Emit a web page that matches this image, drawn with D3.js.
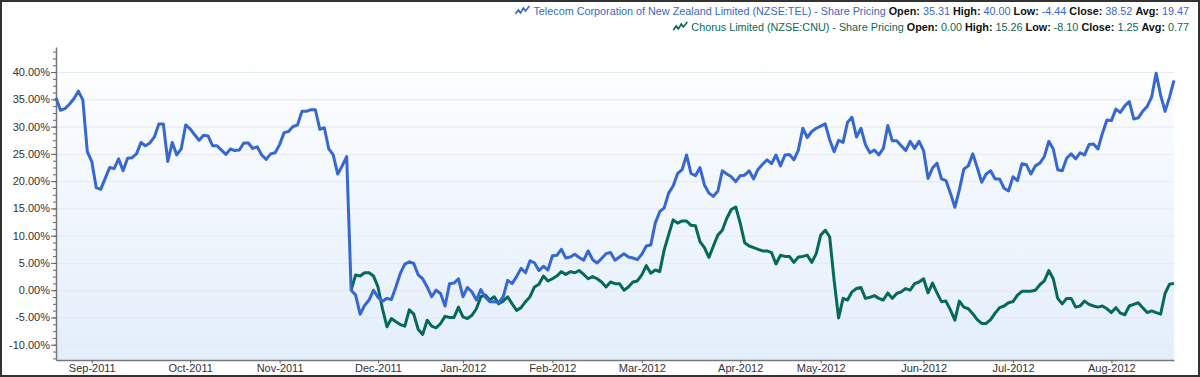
<html>

<head>
    <meta charset="utf-8">
    <script src="https://d3js.org/d3.v7.min.js"></script>
    <style>
        body {
            margin: 0;
            background: #fff;
        }

        text {
            font-family: "Liberation Sans", Arial, sans-serif;
        }

        .gridlines line {
            stroke: #e7e9ec;
        }

        .gridlines .domain {
            display: none;
        }
    </style>
</head>

<body>
    <svg height="377" width="1200" id="shareSvg"></svg>
    <script>
        // trading-day index of the first day of each month (day 0 = 22 Aug 2011)
        const monthLabels = ["Sep-2011", "Oct-2011", "Nov-2011", "Dec-2011", "Jan-2012", "Feb-2012",
            "Mar-2012", "Apr-2012", "May-2012", "Jun-2012", "Jul-2012", "Aug-2012"];
        const monthDays = [8, 30, 50, 72, 91, 111, 131, 153, 171, 194, 214, 236];
        const lastDay = 250;

        const yTicks = [-10, -5, 0, 5, 10, 15, 20, 25, 30, 35, 40];

        // Telecom % change, one value per trading day
        const telPct = [
            35.3, 33.0, 33.3, 34.1, 35.1, 36.5, 34.9, 25.4, 23.6, 18.8,
            18.5, 20.5, 22.5, 22.3, 24.1, 21.9, 24.2, 24.3, 25.0, 27.1,
            26.5, 27.0, 28.1, 30.5, 30.5, 23.6, 27.1, 24.8, 25.9, 30.3,
            29.6, 28.5, 27.5, 28.4, 28.3, 26.5, 26.5, 25.7, 24.9, 25.9,
            25.6, 25.7, 27.0, 27.0, 26.0, 26.3, 24.8, 24.0, 25.0, 25.2,
            26.7, 28.9, 29.1, 30.0, 30.3, 32.8, 32.8, 33.1, 33.1, 29.5,
            29.8, 25.9, 24.8, 21.3, 22.8, 24.5, 0.0, -0.9, -4.4, -2.8,
            -1.8, 0.0, -1.3, -2.0, -1.5, -1.7, 0.6, 3.1, 4.8, 5.2,
            4.9, 2.8, 2.1, 0.6, -1.2, 0.0, -0.6, -2.9, 1.2, 1.3,
            2.1, -1.2, 0.5, -0.3, -1.8, 0.1, -1.3, -2.1, -2.1, -2.3,
            -1.2, 1.8, 1.2, 2.5, 4.0, 3.2, 5.4, 5.0, 3.6, 4.4,
            3.7, 6.3, 6.4, 7.5, 5.9, 6.1, 6.6, 6.0, 5.5, 7.2,
            5.6, 5.0, 5.8, 6.7, 6.9, 5.5, 6.1, 6.7, 6.1, 5.9,
            5.6, 6.6, 8.1, 8.3, 12.3, 14.4, 15.1, 17.8, 19.1, 21.4,
            22.1, 24.8, 21.4, 21.0, 22.5, 19.3, 17.8, 17.2, 18.2, 21.9,
            21.3, 20.8, 19.9, 21.0, 21.1, 21.9, 20.4, 22.2, 23.1, 23.9,
            23.2, 24.8, 22.8, 24.8, 24.9, 23.9, 25.7, 29.7, 28.0, 29.1,
            29.7, 30.1, 30.5, 27.6, 25.4, 27.5, 27.1, 30.8, 31.7, 28.1,
            29.7, 26.7, 25.2, 25.7, 24.8, 26.0, 30.2, 27.4, 27.4, 26.5,
            25.6, 27.3, 26.0, 27.3, 25.6, 20.5, 22.4, 23.3, 20.4, 20.1,
            17.8, 15.2, 18.4, 22.2, 22.8, 25.0, 22.5, 19.8, 21.3, 21.9,
            20.4, 20.4, 18.7, 18.2, 20.8, 20.1, 23.2, 23.0, 21.3, 22.8,
            23.3, 24.5, 27.3, 25.9, 22.1, 21.9, 24.2, 25.0, 24.1, 25.2,
            24.8, 26.7, 26.8, 25.9, 28.8, 31.2, 31.1, 33.2, 32.6, 33.8,
            34.6, 31.4, 31.6, 32.8, 33.7, 35.4, 39.8, 35.8, 32.8, 35.4,
            38.5
        ];

        // Chorus % change, listed from its first trading day
        const chorusStart = 66;
        const chorusPct = [
            0.0, 2.8, 2.6, 3.2, 3.2, 2.6, 0.6, -3.4, -6.7, -5.2,
            -5.8, -6.3, -6.6, -3.6, -4.4, -7.2, -8.1, -5.5, -6.6, -6.9,
            -6.1, -4.8, -5.0, -5.0, -3.1, -4.9, -5.2, -4.6, -3.4, -1.2,
            -0.9, -1.8, -1.2, -2.5, -2.0, -1.2, -2.5, -3.7, -3.2, -2.1,
            -1.2, 0.6, 1.1, 2.6, 1.7, 2.1, 2.6, 3.4, 2.9, 3.4,
            3.2, 3.6, 2.9, 2.1, 2.5, 2.1, 1.5, 0.6, 1.5, 1.2,
            1.2, 0.0, 0.6, 1.5, 1.7, 2.8, 4.5, 3.1, 3.7, 3.4,
            7.4, 10.2, 12.9, 12.3, 12.7, 12.7, 11.9, 11.8, 8.9, 7.8,
            6.0, 8.1, 10.1, 11.0, 13.2, 14.8, 15.26, 12.3, 8.7, 8.1,
            7.8, 7.5, 7.2, 7.2, 6.9, 4.8, 6.4, 6.2, 6.2, 5.1,
            6.1, 6.2, 6.4, 5.1, 6.7, 10.1, 11.0, 9.8, 1.8, -5.1,
            -1.5, -1.8, -0.3, 0.3, 0.5, -1.5, -1.3, -1.0, -1.5, -1.8,
            -0.5, -1.5, -0.6, -0.3, 0.3, 0.0, 1.2, 1.5, 2.1, -0.5,
            1.3, -0.5, -2.1, -2.0, -3.6, -5.5, -2.0, -3.1, -3.4, -4.3,
            -5.4, -6.1, -6.1, -5.4, -4.2, -3.2, -2.9, -2.3, -2.1, -0.9,
            -0.2, -0.2, -0.2, 0.0, 1.0, 1.7, 3.6, 2.1, -1.5, -2.5,
            -1.5, -1.5, -3.1, -2.9, -2.0, -2.6, -2.9, -3.1, -2.9, -3.4,
            -4.1, -3.2, -4.2, -4.5, -2.9, -2.6, -2.3, -3.2, -4.1, -3.8,
            -4.1, -4.4, -0.6, 1.1, 1.25
        ];

        const seriesNames = ["Telecom Corporation of New Zealand Limited (NZSE:TEL) - Share Pricing",
            "Chorus Limited (NZSE:CNU) - Share Pricing"];
        const seriesColors = ["#3667d2", "#06695a"];
        const statNames = ["Open", "High", "Low", "Close", "Avg"];
        const telStats = ["35.31", "40.00", "-4.44", "38.52", "19.47"];
        const chorusStats = ["0.00", "15.26", "-8.10", "1.25", "0.77"];

        const svg = d3.select("#shareSvg");
        const width = +svg.attr("width");
        const height = +svg.attr("height");
        const margins = { top: 47, right: 26, bottom: 17, left: 56 };
        const chartWidth = width - margins.left - margins.right;
        const chartHeight = height - margins.top - margins.bottom;

        // plot background gradient
        const grad = svg.append("defs").append("linearGradient")
            .attr("id", "plotBg").attr("x1", 0).attr("y1", 0).attr("x2", 0).attr("y2", 1);
        grad.append("stop").attr("offset", "0%").attr("stop-color", "#ffffff");
        grad.append("stop").attr("offset", "100%").attr("stop-color", "#e3eefb");

        svg.append("rect")
            .attr("x", margins.left).attr("y", margins.top)
            .attr("width", chartWidth).attr("height", chartHeight)
            .attr("fill", "url(#plotBg)");

        const xScale = d3.scaleLinear().domain([0, lastDay]).range([0, chartWidth]);
        const yScale = d3.scaleLinear().domain([-12.8, 44.6]).range([chartHeight, 0]);

        let chartArea = svg.append("g")
            .attr("transform", `translate(${margins.left},${margins.top})`);

        // gridlines
        chartArea.append("g")
            .attr("class", "gridlines")
            .call(d3.axisLeft(yScale).tickValues(yTicks).tickFormat("").tickSize(-chartWidth));
        chartArea.append("g")
            .attr("class", "gridlines")
            .attr("transform", `translate(0,${chartHeight})`)
            .call(d3.axisBottom(xScale).tickValues(monthDays).tickFormat("").tickSize(chartHeight));

        // minor y ticks
        const minorTicks = d3.range(-12.5, 44.6, 1.25);
        let leftMinor = chartArea.append("g")
            .call(d3.axisLeft(yScale).tickValues(minorTicks).tickFormat("").tickSize(3).tickSizeOuter(0));
        leftMinor.selectAll("line").attr("stroke", "#666");
        leftMinor.select(".domain").remove();

        let leftAxis = chartArea.append("g")
            .call(d3.axisLeft(yScale).tickValues(yTicks)
                .tickFormat(d => d.toFixed(2) + "%").tickSize(5).tickSizeOuter(0));
        leftAxis.select(".domain").attr("stroke", "#777").attr("stroke-width", 1.5);
        leftAxis.selectAll("line").attr("stroke", "#666");
        leftAxis.selectAll("text")
            .attr("font-size", 11).attr("fill", "#333").attr("x", -6)
            .attr("font-family", "'Liberation Sans', Arial, sans-serif");

        let bottomAxis = chartArea.append("g")
            .attr("transform", `translate(0,${chartHeight})`)
            .call(d3.axisBottom(xScale).tickValues(monthDays)
                .tickFormat((d, i) => monthLabels[i]).tickSize(3).tickSizeOuter(0));
        bottomAxis.select(".domain").attr("stroke", "#777").attr("stroke-width", 1.5);
        bottomAxis.selectAll("line").attr("stroke", "#666");
        bottomAxis.selectAll("text")
            .attr("font-size", 11).attr("fill", "#333").attr("y", 4)
            .attr("font-family", "'Liberation Sans', Arial, sans-serif");

        // series lines
        const telLine = d3.line()
            .x((d, i) => xScale(i))
            .y(d => yScale(d));
        const chorusLine = d3.line()
            .x((d, i) => xScale(chorusStart + i))
            .y(d => yScale(d));

        chartArea.append("path")
            .datum(chorusPct)
            .attr("d", chorusLine)
            .attr("fill", "none")
            .attr("stroke", seriesColors[1])
            .attr("stroke-width", 3)
            .attr("stroke-linejoin", "round");

        chartArea.append("path")
            .datum(telPct)
            .attr("d", telLine)
            .attr("fill", "none")
            .attr("stroke", seriesColors[0])
            .attr("stroke-width", 3)
            .attr("stroke-linejoin", "round");

        // legend, right aligned
        const legendRows = [
            { name: seriesNames[0], color: seriesColors[0], stats: telStats, y: 15 },
            { name: seriesNames[1], color: seriesColors[1], stats: chorusStats, y: 31 }
        ];
        legendRows.forEach(row => {
            let t = svg.append("text")
                .attr("x", 1189).attr("y", row.y)
                .attr("text-anchor", "end")
                .attr("font-size", 10.8);
            t.append("tspan").attr("fill", row.color).text(row.name + " ");
            statNames.forEach((s, i) => {
                t.append("tspan").attr("fill", "#111").attr("font-weight", "bold").text(s + ": ");
                t.append("tspan").attr("fill", row.color).text(row.stats[i] + (i < statNames.length - 1 ? " " : ""));
            });
            const left = 1189 - t.node().getComputedTextLength();
            svg.append("path")
                .attr("d", "M0,7 L3,3 L5,6 L8,1 L10,4 L14,-1")
                .attr("transform", `translate(${left - 18},${row.y - 8})`)
                .attr("fill", "none")
                .attr("stroke", row.color)
                .attr("stroke-width", 1.6);
        });

        // outer frame
        svg.append("rect")
            .attr("x", 1).attr("y", 1)
            .attr("width", width - 2).attr("height", height - 2)
            .attr("fill", "none")
            .attr("stroke", "#333")
            .attr("stroke-width", 2);
    </script>
</body>

</html>
